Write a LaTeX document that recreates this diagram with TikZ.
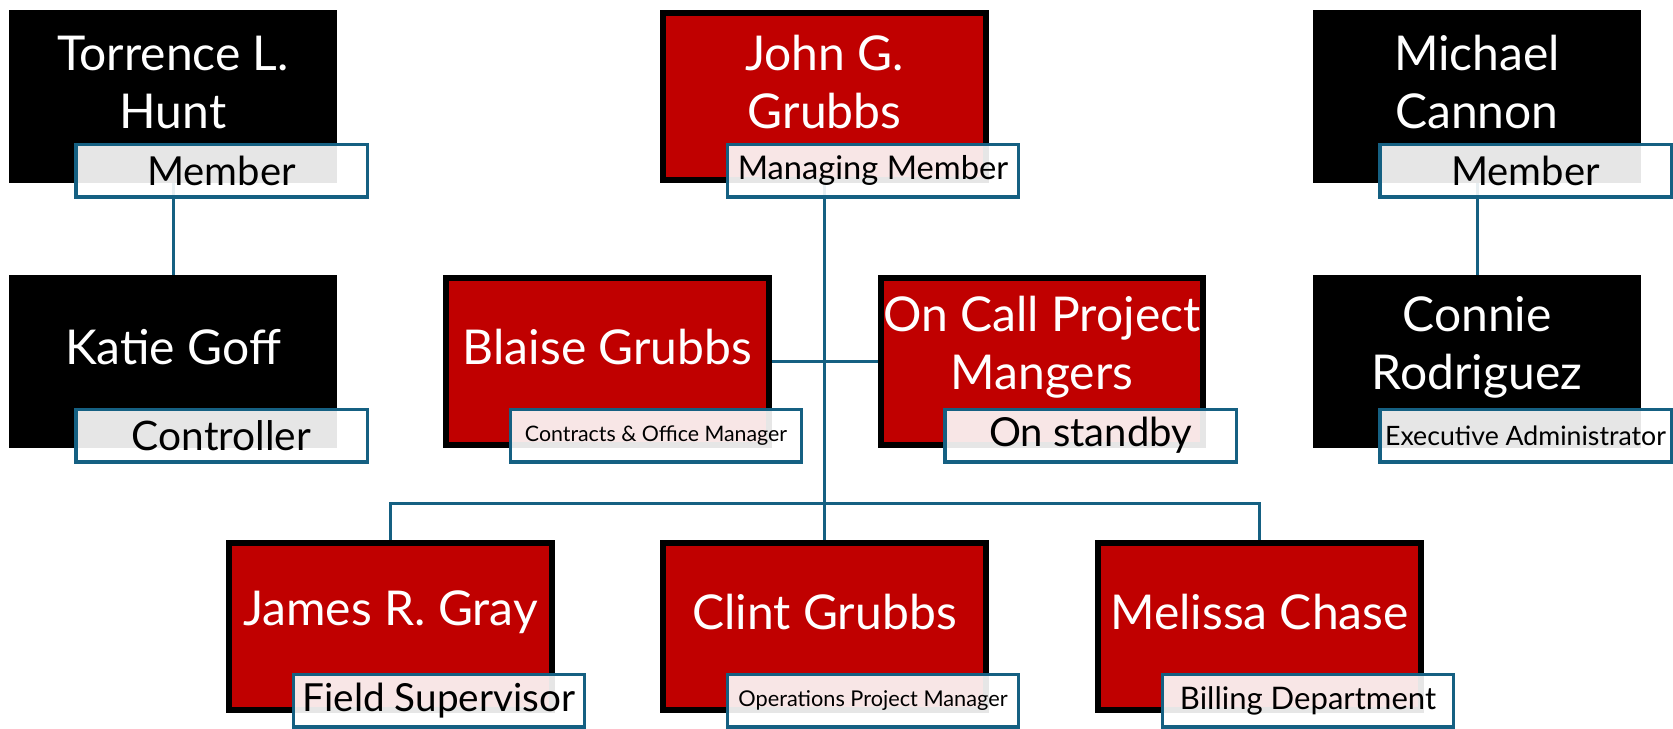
\documentclass[tikz,border=0pt]{standalone}
\usepackage{fontspec}
\setmainfont{Lato}
\usetikzlibrary{positioning}
\pgfdeclarelayer{background}
\pgfsetlayers{background,main}
\definecolor{boxred}{RGB}{192,0,0}
\definecolor{lineteal}{RGB}{21,96,130}
\newcommand{\rolesize}[1]{\fontsize{#1}{#1}\selectfont}
\tikzset{
  person/.style={draw=black, line width=4.5pt, minimum width=242pt, minimum height=125pt, inner sep=0pt},
  redbox/.style={person, fill=boxred},
  blackbox/.style={person, fill=black},
  nametext/.style={text=white, align=center, font=\fontsize{36}{43.5}\selectfont},
  rolebox/.style={draw=lineteal, line width=2.6pt, fill=white, fill opacity=0.9, text opacity=1,
    text=black, minimum width=218.6pt, minimum height=39.4pt, inner sep=0pt},
  link/.style={draw=lineteal, line width=2.25pt},
}

\begin{document}
\begin{tikzpicture}[x=0.75pt, y=-0.75pt]
\useasboundingbox (0,0) rectangle (1673,728);
% members
\node[blackbox] (torrence) at (173,96.5) {};
\node[redbox] (john) at (824.5,96.5) {};
\node[blackbox] (michael) at (1477,96.5) {};
% second row
\node[blackbox] (katie) at (173,361.5) {};
\node[redbox] (blaise) at (607.5,361.5) {};
\node[redbox] (oncall) at (1042,361.5) {};
\node[blackbox] (connie) at (1477,361.5) {};
% staff
\node[redbox] (james) at (390.5,626.5) {};
\node[redbox] (clint) at (824.5,626.5) {};
\node[redbox] (melissa) at (1259.5,626.5) {};

% names
\node[nametext] at ([yshift=10.5pt]torrence.center) {Torrence L.\\Hunt};
\node[nametext] at ([yshift=10.5pt]john.center) {John G.\\Grubbs};
\node[nametext] at ([yshift=10.5pt]michael.center) {Michael\\Cannon};
\node[nametext] at ([yshift=10.5pt]katie.center) {Katie Goff};
\node[nametext] at ([yshift=10.5pt]blaise.center) {Blaise Grubbs};
\node[nametext] at ([yshift=10.5pt]oncall.center) {On Call Project\\Mangers};
\node[nametext] at ([yshift=10.5pt]connie.center) {Connie\\Rodriguez};
\node[nametext] at ([yshift=10.5pt]james.center) {James R. Gray};
\node[nametext] at ([yshift=10.5pt]clint.center) {Clint Grubbs};
\node[nametext] at ([yshift=10.5pt]melissa.center) {Melissa Chase};

% roles
\node[rolebox, font=\rolesize{30}] (torrencerole) at ([shift={(48.5,74)}]torrence.center) {Member};
\node[rolebox, font=\rolesize{24.5}] (johnrole) at ([shift={(48.5,74)}]john.center) {Managing Member};
\node[rolebox, font=\rolesize{30}] (michaelrole) at ([shift={(48.5,74)}]michael.center) {Member};
\node[rolebox, font=\rolesize{30.5}] (katierole) at ([shift={(48.5,74)}]katie.center) {Controller};
\node[rolebox, font=\rolesize{16}] (blaiserole) at ([shift={(48.5,74)}]blaise.center) {Contracts \& Office Manager};
\node[rolebox, font=\rolesize{30}] (oncallrole) at ([shift={(48.5,74)}]oncall.center) {On standby};
\node[rolebox, font=\rolesize{20}] (connierole) at ([shift={(48.5,74)}]connie.center) {Executive Administrator};
\node[rolebox, font=\rolesize{29}] (jamesrole) at ([shift={(48.5,74)}]james.center) {Field Supervisor};
\node[rolebox, font=\rolesize{16.3}] (clintrole) at ([shift={(48.5,74)}]clint.center) {Operations Project Manager};
\node[rolebox, font=\rolesize{23.3}] (melissarole) at ([shift={(48.5,74)}]melissa.center) {Billing Department};

% reporting lines
\begin{pgfonlayer}{background}
\draw[link] (torrence.south) -- (katie.north);
\draw[link] (michael.south) -- (connie.north);
\draw[link] (john.south) -- (clint.north);
\draw[link] (blaise.east) -- (oncall.west);
\draw[link] (james.north) -- ++(0,-37) -| (melissa.north);
\end{pgfonlayer}
\end{tikzpicture}
\end{document}
